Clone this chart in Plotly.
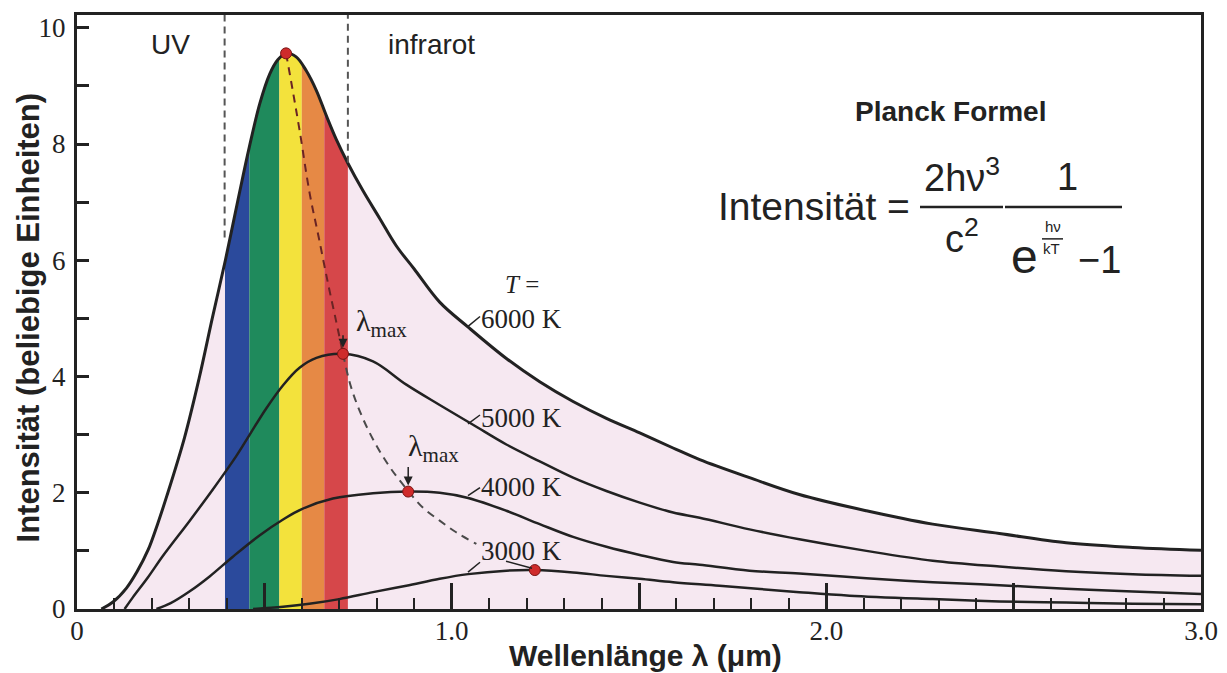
import plotly.graph_objects as go

# Intensity curves (x: wavelength in µm, y: intensity)
X_6000 = [0.065, 0.096, 0.132, 0.16, 0.19, 0.215, 0.24, 0.287, 0.326, 0.361, 0.396, 0.43,
          0.46, 0.488, 0.514, 0.536, 0.558, 0.585, 0.612, 0.639, 0.666, 0.692, 0.723,
          0.763, 0.808, 0.852, 0.90, 0.968, 1.044, 1.146, 1.235, 1.324, 1.413, 1.502,
          1.591, 1.662, 1.795, 1.928, 2.107, 2.284, 2.462, 2.64, 2.818, 3.0]
Y_6000 = [0.0, 0.12, 0.36, 0.64, 1.02, 1.46, 1.95, 2.95, 3.97, 5.0, 6.0, 7.05,
          7.95, 8.7, 9.2, 9.45, 9.56, 9.5, 9.26, 8.92, 8.48, 8.08, 7.67,
          7.2, 6.72, 6.25, 5.85, 5.28, 4.85, 4.31, 3.91, 3.57, 3.28, 3.03,
          2.77, 2.57, 2.26, 1.97, 1.69, 1.46, 1.30, 1.14, 1.06, 1.01]

X_5000 = [0.127, 0.149, 0.19, 0.23, 0.301, 0.363, 0.425, 0.461, 0.505, 0.55, 0.594,
          0.639, 0.71, 0.79, 0.879, 0.968, 1.057, 1.146, 1.235, 1.324, 1.413, 1.502,
          1.591, 1.662, 1.795, 1.928, 2.107, 2.284, 2.462, 2.64, 2.818, 3.0]
Y_5000 = [0.0, 0.2, 0.55, 0.92, 1.52, 2.06, 2.63, 3.0, 3.45, 3.85, 4.15,
          4.32, 4.39, 4.26, 3.86, 3.51, 3.17, 2.83, 2.54, 2.26, 2.03, 1.83,
          1.66, 1.57, 1.37, 1.2, 1.0, 0.83, 0.73, 0.65, 0.60, 0.57]

X_4000 = [0.212, 0.25, 0.30, 0.354, 0.416, 0.488, 0.55, 0.60, 0.683, 0.79, 0.884, 0.968,
          1.044, 1.146, 1.235, 1.324, 1.413, 1.502, 1.591, 1.662, 1.795, 1.928, 2.107,
          2.284, 2.462, 2.64, 2.818, 3.0]
Y_4000 = [0.0, 0.1, 0.3, 0.56, 0.9, 1.27, 1.54, 1.72, 1.9, 1.99, 2.02, 2.0,
          1.91, 1.69, 1.46, 1.24, 1.07, 0.93, 0.81, 0.76, 0.66, 0.61, 0.53,
          0.46, 0.41, 0.35, 0.30, 0.26]

X_3000 = [0.47, 0.55, 0.62, 0.70, 0.79, 0.879, 0.968, 1.044, 1.146, 1.222, 1.324, 1.413,
          1.502, 1.591, 1.715, 1.928, 2.062, 2.284, 2.462, 2.64, 2.818, 3.0]
Y_3000 = [0.0, 0.04, 0.09, 0.17, 0.29, 0.40, 0.52, 0.60, 0.66, 0.67, 0.63, 0.57,
          0.52, 0.46, 0.40, 0.29, 0.23, 0.17, 0.13, 0.11, 0.09, 0.08]

# lambda_max points and the dashed line through them
PEAK_X = [0.558, 0.710, 0.884, 1.222]
PEAK_Y = [9.56, 4.39, 2.02, 0.67]
LOCUS_HI_X = [0.558, 0.575, 0.595, 0.621, 0.645, 0.67, 0.692, 0.71]
LOCUS_HI_Y = [9.56, 8.95, 8.2, 7.15, 6.4, 5.6, 4.94, 4.39]
LOCUS_LO_X = [0.71, 0.73, 0.755, 0.79, 0.834, 0.884, 0.924, 0.968, 1.012, 1.066]
LOCUS_LO_Y = [4.39, 3.85, 3.4, 2.92, 2.45, 2.03, 1.74, 1.52, 1.32, 1.12]

# visible spectrum bands
BAND_EDGES = [0.395, 0.46, 0.54, 0.60, 0.66, 0.723]
BAND_COLORS = ['#2b4a9c', '#1f8a5c', '#f3e23c', '#e68945', '#d6474a']
UV_X, UV_END = 0.394, 6.39
IR_X, IR_END = 0.723, 7.68

Y_TOP = 10.22
TEXT = '#222222'
SANS = 'Liberation Sans, Arial, sans-serif'
SERIF = 'Liberation Serif, Times New Roman, serif'

# plot area in window pixels, used only to place text;
# the page body adds an 8 px offset, so the figure itself is 8 px smaller
OFF = 8
L, T, W, H = 77, 12, 1124, 597
FIG_W, FIG_H = 1227 - OFF, 673 - OFF


def xp(px):
    return (px - L) / W


def yp(py):
    return (T + H - py) / H


def xd(px):
    return (px - L) / W * 3.0


def yd(py):
    return (T + H - py) / H * Y_TOP


fig = go.Figure()

# white area above the 6000 K curve (background is pink)
fig.add_trace(go.Scatter(
    x=[0] + X_6000 + [3.0, 0], y=[0] + Y_6000 + [Y_TOP, Y_TOP],
    fill='toself', fillcolor='white', mode='lines', line=dict(width=0),
    hoverinfo='skip'))

for xs, ys, w in [(X_3000, Y_3000, 2.5), (X_4000, Y_4000, 2.5),
                  (X_5000, Y_5000, 2.5), (X_6000, Y_6000, 3)]:
    fig.add_trace(go.Scatter(x=xs, y=ys, mode='lines',
                             line=dict(color=TEXT, width=w, shape='spline')))

fig.add_trace(go.Scatter(x=LOCUS_HI_X, y=LOCUS_HI_Y, mode='lines',
                         line=dict(color='#6a2424', width=2, dash='8px,6px', shape='spline')))
fig.add_trace(go.Scatter(x=LOCUS_LO_X, y=LOCUS_LO_Y, mode='lines',
                         line=dict(color='#4a4a4a', width=2, dash='8px,6px', shape='spline')))

fig.add_trace(go.Scatter(x=PEAK_X, y=PEAK_Y, mode='markers',
                         marker=dict(size=11, color='#cf2b2b', line=dict(color='#7a1414', width=1))))

shapes = []
for i, c in enumerate(BAND_COLORS):
    shapes.append(dict(type='rect', xref='x', yref='y', x0=BAND_EDGES[i], x1=BAND_EDGES[i + 1],
                       y0=0, y1=Y_TOP, fillcolor=c, line=dict(width=0), layer='below'))
for x, y0 in [(UV_X, UV_END), (IR_X, IR_END)]:
    shapes.append(dict(type='line', xref='x', yref='y', x0=x, x1=x, y0=y0, y1=Y_TOP,
                       line=dict(color='#555555', width=2, dash='7px,5px')))

# little leader strokes from curves to their labels
for (a, b), (c, d) in [((468, 325), (480, 315)), ((468, 423), (480, 414)),
                       ((468, 495), (480, 487)), ((468, 572), (480, 562)),
                       ((506, 561), (532, 568))]:
    shapes.append(dict(type='line', xref='x', yref='y', x0=xd(a), y0=yd(b), x1=xd(c), y1=yd(d),
                       line=dict(color=TEXT, width=1.5)))

# fraction bars of the formula
for (a, b, y, w) in [(920, 1003, 205, 2.5), (1005, 1122, 205, 2.5), (1042, 1063, 237, 1.5)]:
    shapes.append(dict(type='line', xref='paper', yref='paper', x0=xp(a), x1=xp(b),
                       y0=yp(y), y1=yp(y), line=dict(color=TEXT, width=w)))


def label(text, px, py, size, family=SANS, xanchor='center', **kw):
    return dict(text=text, x=xp(px), y=yp(py), xref='paper', yref='paper',
                xanchor=xanchor, yanchor='middle', showarrow=False,
                font=dict(family=family, size=size, color=TEXT), **kw)


annotations = [
    label('UV', 170, 42, 28),
    label('infrarot', 431, 42, 28),
    label('<b>Planck Formel</b>', 950, 109, 28),
    label('Intensität =', 912, 204, 39, xanchor='right'),
    label('2hν<sup>3</sup>', 962, 173, 38),
    label('c<sup>2</sup>', 962, 234, 38),
    label('1', 1067, 175, 38),
    label('e', 1025, 255, 48),
    label('hν', 1053, 225, 15),
    label('kT', 1051, 247, 15),
    label('−1', 1099, 258, 38),
    label('<i>T</i> =', 522, 283, 25, family=SERIF),
    label('6000 K', 521, 318, 27, family=SERIF),
    label('5000 K', 521, 417, 27, family=SERIF),
    label('4000 K', 521, 486, 27, family=SERIF),
    label('3000 K', 521, 551, 27, family=SERIF),
    label('λ<sub>max</sub>', 381, 322, 30, family=SERIF),
    label('λ<sub>max</sub>', 433, 447, 30, family=SERIF),
    label('<b>Intensität (beliebige Einheiten)</b>', 28, 316, 31, textangle=-90),
    label('<b>Wellenlänge λ (μm)</b>', 645, 656, 30),
]
for x, y, ay in [(PEAK_X[1], PEAK_Y[1], -20), (PEAK_X[2], PEAK_Y[2], -26)]:
    annotations.append(dict(x=x, y=y, xref='x', yref='y', text='', showarrow=True,
                            ax=0, ay=ay, arrowhead=2, arrowsize=1.2, arrowwidth=1.5,
                            arrowcolor=TEXT, standoff=6))

axis_common = dict(showline=True, linewidth=3, linecolor=TEXT, mirror=True,
                   showgrid=False, zeroline=False, ticks='inside', tickcolor=TEXT,
                   tickwidth=2.5, tickfont=dict(family=SERIF, size=27, color=TEXT))

fig.update_layout(
    width=FIG_W, height=FIG_H,
    margin=dict(l=L - OFF, r=FIG_W - (L - OFF) - W, t=T - OFF, b=FIG_H - (T - OFF) - H),
    paper_bgcolor='white', plot_bgcolor='#f6e8f1',
    showlegend=False, shapes=shapes, annotations=annotations,
    xaxis=dict(range=[0, 3.0], tickmode='array',
               tickvals=[0, 0.5, 1.0, 1.5, 2.0, 2.5, 3.0],
               ticktext=['0', '', '1.0', '', '2.0', '', '3.0'], ticklen=26,
               ticklabelstandoff=-4,
               minor=dict(dtick=0.1, ticklen=11, ticks='inside', tickcolor=TEXT, tickwidth=2),
               **axis_common),
    yaxis=dict(range=[0, Y_TOP], tickmode='linear', tick0=0, dtick=2, ticklen=12,
               ticklabelstandoff=3,
               minor=dict(dtick=1, ticklen=12, ticks='inside', tickcolor=TEXT, tickwidth=2.5),
               **axis_common),
)

fig.write_html('out.html')
